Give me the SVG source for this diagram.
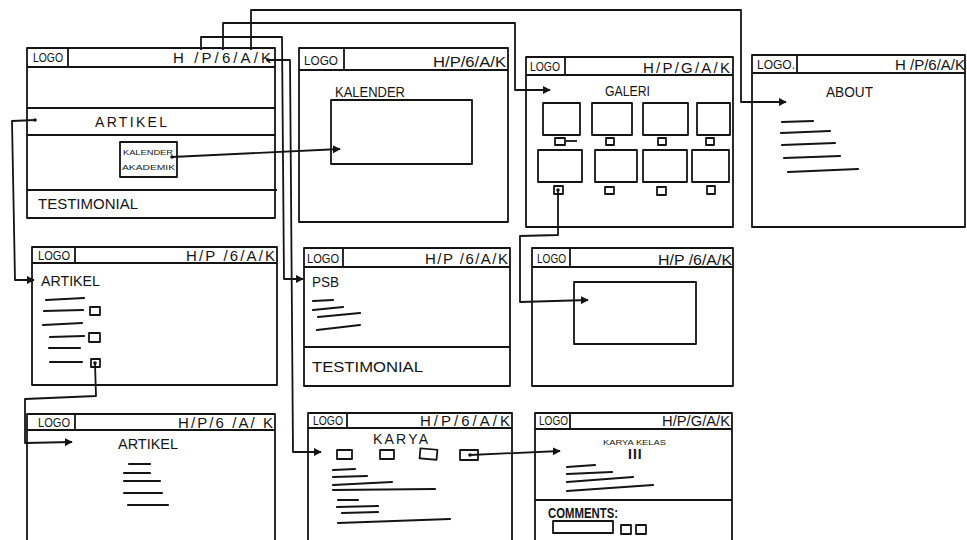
<svg xmlns="http://www.w3.org/2000/svg" width="967" height="540" viewBox="0 0 967 540">
<style>
.b{fill:none;stroke:#141414;stroke-width:1.8;stroke-linejoin:round}
.t{fill:none;stroke:#141414;stroke-width:2.2;stroke-linecap:round}
.c{fill:none;stroke:#141414;stroke-width:1.8;stroke-linejoin:round}
.logo{font-family:"Liberation Sans",Arial,sans-serif;font-size:12px;fill:#141414}
.nav{font-family:"Liberation Sans",Arial,sans-serif;font-size:15px;fill:#141414}
.lbl{font-family:"Liberation Sans",Arial,sans-serif;font-size:14px;fill:#141414}
.sm{font-family:"Liberation Sans",Arial,sans-serif;font-size:7px;fill:#141414}
.d{fill:#141414}
</style>
<defs>
<marker id="ah" viewBox="0 0 10 10" refX="9" refY="5" markerWidth="4.5" markerHeight="4.5" orient="auto"><path d="M0,0 L10,5 L0,10 z" fill="#141414"/></marker>
</defs>
<rect width="967" height="540" fill="#ffffff"/>

<g id="home">
<rect class="b" x="27" y="48" width="248" height="170"/>
<line class="b" x1="27" y1="67" x2="275" y2="67"/>
<line class="b" x1="68" y1="48" x2="68" y2="67"/>
<text class="logo" x="33" y="62" textLength="30" lengthAdjust="spacingAndGlyphs">LOGO</text>
<text class="nav" x="173" y="63" textLength="98" lengthAdjust="spacing">H /P/6/A/K</text>
<line class="b" x1="27" y1="108" x2="275" y2="108"/>
<line class="b" x1="27" y1="135" x2="275" y2="135"/>
<line class="b" x1="27" y1="190" x2="277" y2="190"/>
<text class="lbl" x="95" y="127" textLength="72" lengthAdjust="spacing">ARTIKEL</text>
<rect class="b" x="120" y="142" width="57" height="35"/>
<text class="sm" x="123" y="155" textLength="50" lengthAdjust="spacingAndGlyphs">KALENDER</text>
<text class="sm" x="122" y="170" textLength="53" lengthAdjust="spacingAndGlyphs">AKADEMIK</text>
<text class="lbl" x="38" y="209" textLength="100" lengthAdjust="spacingAndGlyphs">TESTIMONIAL</text>
</g>

<g id="kalender">
<rect class="b" x="299" y="48" width="209" height="174"/>
<line class="b" x1="299" y1="70" x2="508" y2="70"/>
<line class="b" x1="344" y1="48" x2="344" y2="70"/>
<text class="logo" x="304" y="65" font-size="14" textLength="34" lengthAdjust="spacingAndGlyphs">LOGO</text>
<text class="nav" x="433" y="67" textLength="73" lengthAdjust="spacingAndGlyphs">H/P/6/A/K</text>
<text class="lbl" x="335" y="97" font-size="11" textLength="70" lengthAdjust="spacingAndGlyphs">KALENDER</text>
<rect class="b" x="331" y="100" width="141" height="64"/>
</g>

<g id="galeri">
<rect class="b" x="526" y="57" width="207" height="170"/>
<line class="b" x1="526" y1="75" x2="733" y2="75"/>
<line class="b" x1="565" y1="57" x2="565" y2="75"/>
<text class="logo" x="530" y="71" textLength="30" lengthAdjust="spacingAndGlyphs">LOGO</text>
<text class="nav" x="643" y="73" textLength="87" lengthAdjust="spacing">H/P/G/A/K</text>
<text class="lbl" x="605" y="96" font-size="13" textLength="45" lengthAdjust="spacingAndGlyphs">GALERI</text>
<rect class="b" x="543" y="103" width="37" height="32"/>
<rect class="b" x="592" y="103" width="40" height="32"/>
<rect class="b" x="643" y="103" width="45" height="32"/>
<rect class="b" x="697" y="103" width="33" height="32"/>
<rect class="b" x="555" y="138" width="10" height="7"/>
<line class="b" x1="566" y1="141" x2="577" y2="141" stroke-width="1"/>
<rect class="b" x="606" y="138" width="8" height="7"/>
<rect class="b" x="658" y="138" width="8" height="7"/>
<rect class="b" x="706" y="138" width="8" height="7"/>
<rect class="b" x="538" y="150" width="44" height="32"/>
<rect class="b" x="595" y="150" width="42" height="32"/>
<rect class="b" x="643" y="150" width="44" height="32"/>
<rect class="b" x="692" y="150" width="37" height="32"/>
<rect class="b" x="554" y="186" width="9" height="8"/>
<rect class="b" x="605" y="187" width="9" height="7"/>
<rect class="b" x="657" y="187" width="9" height="8"/>
<rect class="b" x="707" y="186" width="8" height="8"/>
</g>

<g id="about">
<rect class="b" x="752" y="55" width="213" height="172"/>
<line class="b" x1="752" y1="73" x2="965" y2="73"/>
<line class="b" x1="797" y1="55" x2="797" y2="73"/>
<text class="logo" x="757" y="69" textLength="38" lengthAdjust="spacingAndGlyphs">LOGO.</text>
<text class="nav" x="895" y="70" textLength="70" lengthAdjust="spacingAndGlyphs">H /P/6/A/K</text>
<text class="lbl" x="826" y="97" textLength="47" lengthAdjust="spacingAndGlyphs">ABOUT</text>
<line class="t" x1="782" y1="122" x2="813" y2="121"/>
<line class="t" x1="781" y1="133" x2="830" y2="131"/>
<line class="t" x1="782" y1="145" x2="835" y2="143"/>
<line class="t" x1="784" y1="158" x2="840" y2="156"/>
<line class="t" x1="788" y1="172" x2="858" y2="169"/>
</g>

<g id="artikel-list">
<rect class="b" x="32" y="247" width="245" height="138"/>
<line class="b" x1="32" y1="263" x2="277" y2="263"/>
<line class="b" x1="75" y1="247" x2="75" y2="263"/>
<text class="logo" x="38" y="260" textLength="32" lengthAdjust="spacingAndGlyphs">LOGO</text>
<text class="nav" x="186" y="261" textLength="89" lengthAdjust="spacing">H/P /6/A/K</text>
<text class="lbl" x="41" y="286" textLength="59" lengthAdjust="spacingAndGlyphs">ARTIKEL</text>
<line class="t" x1="46" y1="300" x2="84" y2="298"/>
<line class="t" x1="44" y1="311" x2="83" y2="310"/>
<rect class="b" x="90" y="307" width="10" height="8"/>
<line class="t" x1="43" y1="325" x2="82" y2="323"/>
<line class="t" x1="50" y1="337" x2="84" y2="336"/>
<rect class="b" x="89" y="333" width="11" height="9"/>
<line class="t" x1="49" y1="348" x2="80" y2="348"/>
<line class="t" x1="50" y1="362" x2="82" y2="362"/>
<rect class="b" x="91" y="359" width="9" height="8"/>
</g>

<g id="psb">
<rect class="b" x="304" y="248" width="206" height="138"/>
<line class="b" x1="304" y1="267" x2="510" y2="267"/>
<line class="b" x1="343" y1="248" x2="343" y2="267"/>
<text class="logo" x="307" y="263" textLength="32" lengthAdjust="spacingAndGlyphs">LOGO</text>
<text class="nav" x="425" y="264" textLength="83" lengthAdjust="spacing">H/P /6/A/K</text>
<text class="lbl" x="312" y="287" textLength="27" lengthAdjust="spacingAndGlyphs">PSB</text>
<line class="t" x1="313" y1="301" x2="333" y2="300"/>
<line class="t" x1="313" y1="310" x2="343" y2="307"/>
<line class="t" x1="318" y1="317" x2="360" y2="313"/>
<line class="t" x1="317" y1="330" x2="360" y2="325"/>
<line class="b" x1="304" y1="347" x2="510" y2="347"/>
<text class="lbl" x="312" y="372" textLength="111" lengthAdjust="spacingAndGlyphs">TESTIMONIAL</text>
</g>

<g id="galeri-detail">
<rect class="b" x="532" y="248" width="201" height="138"/>
<line class="b" x1="532" y1="267" x2="733" y2="267"/>
<line class="b" x1="570" y1="248" x2="570" y2="267"/>
<text class="logo" x="537" y="263" textLength="29" lengthAdjust="spacingAndGlyphs">LOGO</text>
<text class="nav" x="658" y="265" textLength="74" lengthAdjust="spacingAndGlyphs">H/P /6/A/K</text>
<rect class="b" x="574" y="282" width="122" height="62"/>
</g>

<g id="artikel-detail">
<path class="b" d="M27,545 L27,414 L275,414 L275,545"/>
<line class="b" x1="27" y1="430" x2="275" y2="430"/>
<line class="b" x1="75" y1="414" x2="75" y2="430"/>
<text class="logo" x="38" y="427" textLength="32" lengthAdjust="spacingAndGlyphs">LOGO</text>
<text class="nav" x="178" y="428" textLength="95" lengthAdjust="spacing">H/P/6 /A/ K</text>
<text class="lbl" x="118" y="449" font-size="12" textLength="60" lengthAdjust="spacingAndGlyphs">ARTIKEL</text>
<line class="t" x1="129" y1="464" x2="150" y2="464"/>
<line class="t" x1="124" y1="473" x2="150" y2="473"/>
<line class="t" x1="124" y1="481" x2="160" y2="481"/>
<line class="t" x1="124" y1="493" x2="162" y2="493"/>
<line class="t" x1="128" y1="505" x2="168" y2="505"/>
</g>

<g id="karya">
<path class="b" d="M308,545 L308,413 L512,413 L512,545"/>
<line class="b" x1="308" y1="428" x2="512" y2="428"/>
<line class="b" x1="347" y1="413" x2="347" y2="428"/>
<text class="logo" x="313" y="425" textLength="30" lengthAdjust="spacingAndGlyphs">LOGO</text>
<text class="nav" x="420" y="426" textLength="90" lengthAdjust="spacing">H/P/6/A/K</text>
<text class="lbl" x="373" y="444" font-size="13" textLength="55" lengthAdjust="spacing">KARYA</text>
<rect class="b" x="337" y="450" width="15" height="9"/>
<rect class="b" x="380" y="450" width="14" height="9"/>
<rect class="b" x="420" y="449" width="17" height="10" transform="rotate(5 428 454)"/>
<rect class="b" x="460" y="450" width="18" height="10"/>
<line class="t" x1="333" y1="470" x2="355" y2="469"/>
<line class="t" x1="333" y1="477" x2="367" y2="476"/>
<line class="t" x1="333" y1="485" x2="392" y2="482"/>
<line class="t" x1="333" y1="490" x2="435" y2="489"/>
<line class="t" x1="338" y1="500" x2="358" y2="500"/>
<line class="t" x1="337" y1="507" x2="378" y2="506"/>
<line class="t" x1="342" y1="513" x2="378" y2="512"/>
<line class="t" x1="338" y1="523" x2="450" y2="519"/>
</g>

<g id="karya-kelas">
<path class="b" d="M535,545 L535,413 L732,413 L732,545"/>
<line class="b" x1="535" y1="429" x2="732" y2="429"/>
<line class="b" x1="570" y1="413" x2="570" y2="429"/>
<text class="logo" x="539" y="425" textLength="29" lengthAdjust="spacingAndGlyphs">LOGO</text>
<text class="nav" x="662" y="426" textLength="68" lengthAdjust="spacingAndGlyphs">H/P/G/A/K</text>
<text class="sm" x="603" y="445" font-size="9" textLength="63" lengthAdjust="spacingAndGlyphs">KARYA KELAS</text>
<text class="lbl" x="628" y="459" font-size="10" font-weight="bold" letter-spacing="1">III</text>
<line class="t" x1="567" y1="467" x2="595" y2="465"/>
<line class="t" x1="567" y1="474" x2="612" y2="472"/>
<line class="t" x1="567" y1="482" x2="633" y2="477"/>
<line class="t" x1="567" y1="491" x2="653" y2="485"/>
<line class="b" x1="535" y1="500" x2="732" y2="500"/>
<text class="lbl" x="548" y="518" font-size="11" font-weight="bold" textLength="70" lengthAdjust="spacingAndGlyphs">COMMENTS:</text>
<rect class="b" x="553" y="521" width="60" height="12"/>
<rect class="b" x="621" y="525" width="10" height="9"/>
<rect class="b" x="636" y="525" width="10" height="9"/>
</g>

<g id="connectors">
<path class="c" d="M201,50 L201,37 L282,37 L284,279 L303,279" marker-end="url(#ah)"/>
<path class="c" d="M223,50 L223,23 L515,23 L515,90 L550,90" marker-end="url(#ah)"/>
<path class="c" d="M251,50 L251,10 L741,10 L741,102 L786,102" marker-end="url(#ah)"/>
<path class="c" d="M268,60 L290,60 L293,452 L321,452" marker-end="url(#ah)"/>
<path class="c" d="M35,120 L12,121 L15,280 L34,280" marker-end="url(#ah)"/>
<path class="c" d="M172,157 L340,149" marker-end="url(#ah)"/>
<path class="c" d="M95,363 L96,396 L25,399 L25,443 L72,442" marker-end="url(#ah)"/>
<path class="c" d="M558,190 L558,235 L520,236 L520,302 L588,300" marker-end="url(#ah)"/>
<path class="c" d="M470,455 L560,451" marker-end="url(#ah)"/>
<circle class="d" cx="35" cy="120" r="1.8"/>
<circle class="d" cx="172" cy="157" r="1.8"/>
<circle class="d" cx="95" cy="363" r="1.8"/>
<circle class="d" cx="558" cy="190" r="1.8"/>
<circle class="d" cx="470" cy="455" r="1.8"/>
<circle class="d" cx="268" cy="60" r="1.8"/>
</g>
</svg>
